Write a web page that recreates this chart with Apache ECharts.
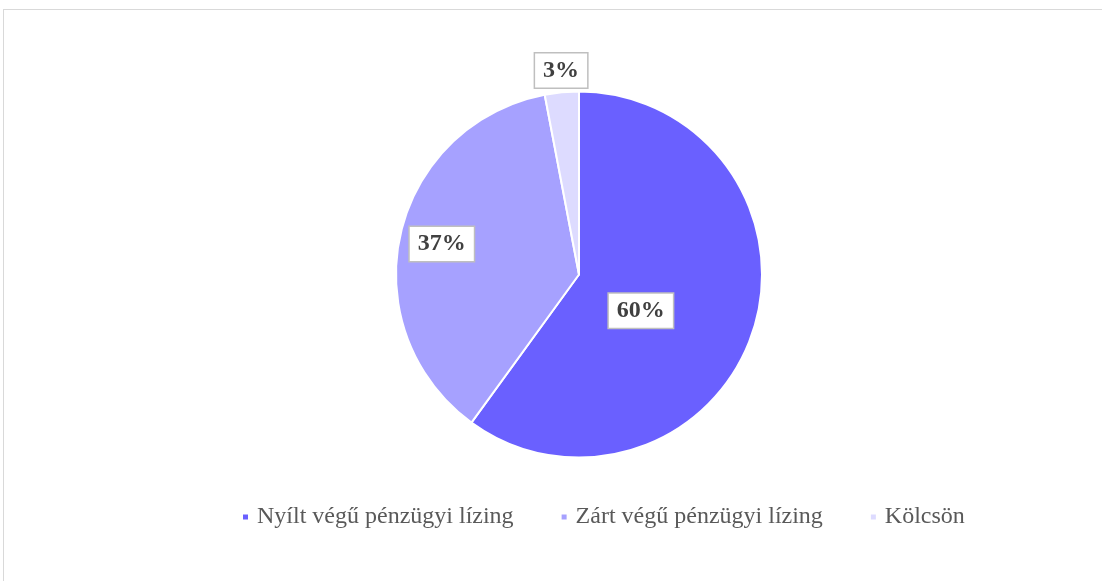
<!DOCTYPE html>
<html>
<head>
<meta charset="utf-8">
<script src="https://cdn.jsdelivr.net/npm/echarts@6/dist/echarts.min.js"></script>
<style>
	html, body { margin: 0; padding: 0; background: #fff; }
	#frame { position: absolute; left: 3px; top: 9px; width: 1110px; height: 590px; border: 1px solid #d9d9d9; box-sizing: border-box; }
	#chart { position: absolute; left: 0; top: 0; width: 1102px; height: 581px; }
</style>
</head>
<body>
<div id="frame"></div>
<div id="chart"></div>
<script>
	// adatok
	var categories = ['Nyílt végű pénzügyi lízing', 'Zárt végű pénzügyi lízing', 'Kölcsön'];
	var values = [60, 37, 3];
	var colors = ['#6a60ff', '#a6a1ff', '#dddbff'];
	// címke eltolás a szelet belső pontjához képest
	var labelOffsets = [[-28, 7], [-45, -10], [-9, -110]];

	var chart = echarts.init(document.getElementById('chart'));
	var data = categories.map(function(name, i) {
		return {
			name: name,
			value: values[i],
			itemStyle: { color: colors[i] },
			label: { offset: labelOffsets[i] }
		};
	});

	var option = {
		animation: false,
		legend: {
			bottom: 47,
			left: 236,
			icon: 'rect',
			itemWidth: 7,
			itemHeight: 7,
			itemGap: 46,
			data: categories,
			textStyle: {
				fontFamily: 'Liberation Serif',
				fontSize: 24,
				color: '#595959',
				padding: [0, 0, 0, 3]
			}
		},
		series: [{
			type: 'pie',
			center: [579, 274.5],
			radius: 183,
			startAngle: 90,
			clockwise: true,
			itemStyle: {
				borderColor: '#fff',
				borderWidth: 2
			},
			label: {
				show: true,
				position: 'inside',
				formatter: '{c}%',
				fontFamily: 'Liberation Serif',
				fontWeight: 'bold',
				fontSize: 24,
				color: '#404040',
				backgroundColor: '#fff',
				borderColor: '#bfbfbf',
				borderWidth: 1.5,
				padding: [6, 8, 4, 8]
			},
			labelLine: { show: false },
			emphasis: { disabled: true },
			data: data
		}]
	};

	chart.setOption(option);
	window.onresize = chart.resize;
</script>
</body>
</html>
